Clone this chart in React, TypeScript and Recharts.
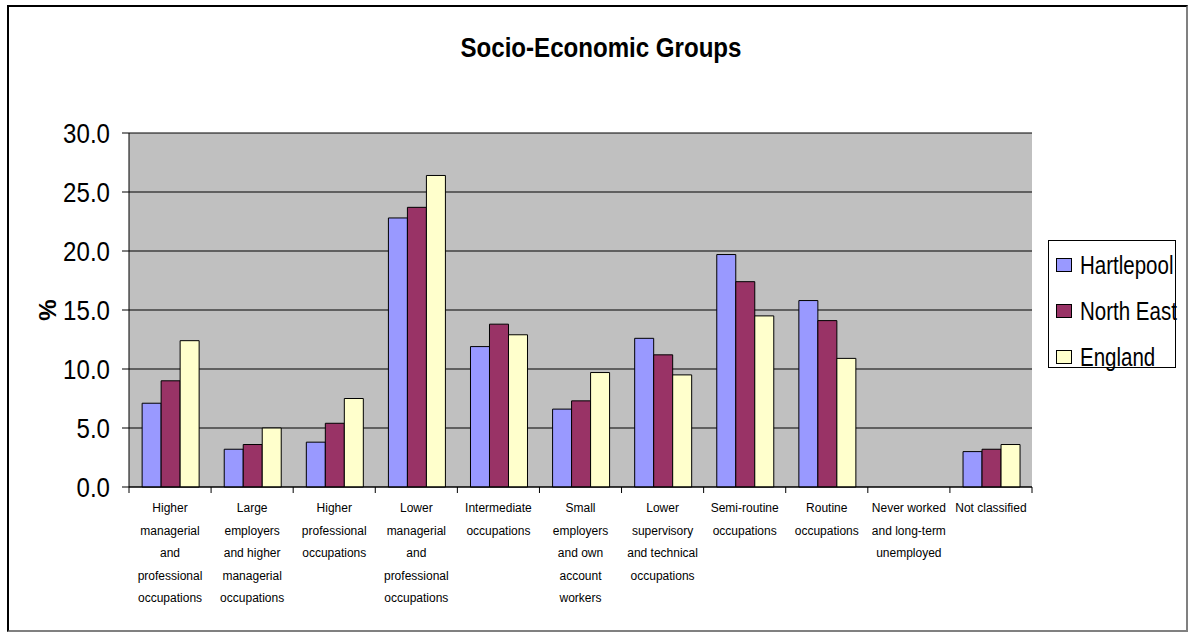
import { Bar, BarChart, CartesianGrid, Legend, XAxis, YAxis } from "recharts";

const CATEGORIES = [
  "Higher managerial and professional occupations",
  "Large employers and higher managerial occupations",
  "Higher professional occupations",
  "Lower managerial and professional occupations",
  "Intermediate occupations",
  "Small employers and own account workers",
  "Lower supervisory and technical occupations",
  "Semi-routine occupations",
  "Routine occupations",
  "Never worked and long-term unemployed",
  "Not classified",
];

// how each axis label wraps in the original
const LABEL_LINES = [
  ["Higher", "managerial", "and", "professional", "occupations"],
  ["Large", "employers", "and higher", "managerial", "occupations"],
  ["Higher", "professional", "occupations"],
  ["Lower", "managerial", "and", "professional", "occupations"],
  ["Intermediate", "occupations"],
  ["Small", "employers", "and own", "account", "workers"],
  ["Lower", "supervisory", "and technical", "occupations"],
  ["Semi-routine", "occupations"],
  ["Routine", "occupations"],
  ["Never worked", "and long-term", "unemployed"],
  ["Not classified"],
];

const HARTLEPOOL = [7.1, 3.2, 3.8, 22.8, 11.9, 6.6, 12.6, 19.7, 15.8, 0, 3.0];
const NORTH_EAST = [9.0, 3.6, 5.4, 23.7, 13.8, 7.3, 11.2, 17.4, 14.1, 0, 3.2];
const ENGLAND = [12.4, 5.0, 7.5, 26.4, 12.9, 9.7, 9.5, 14.5, 10.9, 0, 3.6];

const Y_TICKS = [0, 5, 10, 15, 20, 25, 30];

const SERIES = [
  { key: "hartlepool", name: "Hartlepool", color: "#9999ff" },
  { key: "northEast", name: "North East", color: "#993366" },
  { key: "england", name: "England", color: "#ffffcc" },
];

const data = CATEGORIES.map((c, i) => ({
  category: c,
  hartlepool: HARTLEPOOL[i],
  northEast: NORTH_EAST[i],
  england: ENGLAND[i],
}));

const W = 1191;
const H = 633;
const PLOT_LEFT = 129;
const PLOT_RIGHT = 1032;
const BAND = (PLOT_RIGHT - PLOT_LEFT) / CATEGORIES.length;
const SANS = "'Liberation Sans', Arial, sans-serif";

function CategoryTick(props: any) {
  const { x, y, index } = props;
  const lines = LABEL_LINES[index] || [];
  const left = x - BAND / 2;
  return (
    <g>
      <line x1={left} y1={y} x2={left} y2={y + 6} stroke="#000" />
      {index === CATEGORIES.length - 1 && (
        <line x1={left + BAND} y1={y} x2={left + BAND} y2={y + 6} stroke="#000" />
      )}
      <text x={x} y={y + 25} textAnchor="middle" fontSize={12} fontFamily={SANS} fill="#000">
        {lines.map((l: string, i: number) => (
          <tspan key={i} x={x} dy={i === 0 ? 0 : 22.6}>
            {l}
          </tspan>
        ))}
      </text>
    </g>
  );
}

// excel squeezed its fonts, so the text is narrowed a bit
function ValueTick(props: any) {
  const { x, y, payload } = props;
  return (
    <text
      x={x}
      y={y}
      dy="0.36em"
      textAnchor="end"
      fontSize={28}
      fontFamily={SANS}
      fill="#000"
      transform={`translate(${x} 0) scale(0.86 1) translate(${-x} 0)`}
    >
      {Number(payload.value).toFixed(1)}
    </text>
  );
}

function LegendBox() {
  return (
    <div
      style={{
        width: 126,
        height: 125,
        border: "1px solid #000",
        background: "#fff",
        boxSizing: "content-box",
        paddingTop: 1,
      }}
    >
      {SERIES.map((s) => (
        <div key={s.key} style={{ display: "flex", alignItems: "center", height: 46, whiteSpace: "nowrap" }}>
          <span
            style={{
              display: "inline-block",
              width: 14,
              height: 12,
              marginLeft: 7,
              marginRight: 8,
              background: s.color,
              border: "1px solid #000",
              flex: "none",
            }}
          />
          <span
            style={{
              fontFamily: SANS,
              fontSize: 25,
              color: "#000",
              display: "inline-block",
              transform: "scaleX(0.82)",
              transformOrigin: "left center",
            }}
          >
            {s.name}
          </span>
        </div>
      ))}
    </div>
  );
}

export default function App() {
  return (
    <div style={{ position: "absolute", left: 0, top: 0, width: W, height: H, background: "#fff" }}>
      <div
        style={{
          position: "absolute",
          left: 7,
          top: 5,
          width: 1177,
          height: 623,
          border: "2px solid #000",
          borderRightColor: "#808080",
          borderBottomColor: "#808080",
        }}
      />
      <div
        style={{
          position: "absolute",
          left: 0,
          width: 1202,
          top: 32,
          textAlign: "center",
          fontFamily: SANS,
          fontWeight: "bold",
          fontSize: 28,
          lineHeight: "32px",
          color: "#000",
          transform: "scaleX(0.86)",
          transformOrigin: "601px 50%",
        }}
      >
        Socio-Economic Groups
      </div>
      <div style={{ position: "absolute", left: 0, top: 0 }}>
        <BarChart
          width={W}
          height={H}
          data={data}
          margin={{ top: 133, right: W - PLOT_RIGHT, bottom: 6, left: PLOT_LEFT - 70 }}
          barCategoryGap="16%"
          barGap={0}
        >
          <CartesianGrid vertical={false} fill="#c0c0c0" stroke="#000" />
          <XAxis
            dataKey="category"
            interval={0}
            height={140}
            tickSize={0}
            tickMargin={0}
            tickLine={false}
            axisLine={{ stroke: "#000" }}
            tick={<CategoryTick />}
          />
          <YAxis
            width={70}
            domain={[0, 30]}
            ticks={Y_TICKS}
            interval={0}
            tickSize={7}
            tickMargin={12}
            axisLine={{ stroke: "#000" }}
            tickLine={{ stroke: "#000" }}
            tick={<ValueTick />}
            label={{
              content: ({ viewBox }: any) => (
                <text
                  x={viewBox.x - 12}
                  y={viewBox.y + viewBox.height / 2}
                  transform={`rotate(-90 ${viewBox.x - 12} ${viewBox.y + viewBox.height / 2})`}
                  textAnchor="middle"
                  dominantBaseline="central"
                  fontSize={24}
                  fontWeight="bold"
                  fontFamily={SANS}
                  fill="#000"
                >
                  %
                </text>
              ),
            }}
          />
          <YAxis
            yAxisId="edge"
            orientation="right"
            width={0}
            tick={false}
            tickLine={false}
            axisLine={{ stroke: "#808080" }}
          />
          <Legend
            layout="vertical"
            align="center"
            verticalAlign="middle"
            content={() => <LegendBox />}
            wrapperStyle={{ left: 1048, top: 240, width: 128, height: 127 }}
          />
          {SERIES.map((s) => (
            <Bar
              key={s.key}
              dataKey={s.key}
              name={s.name}
              fill={s.color}
              stroke="#000"
              strokeWidth={1}
              isAnimationActive={false}
            />
          ))}
        </BarChart>
      </div>
    </div>
  );
}
